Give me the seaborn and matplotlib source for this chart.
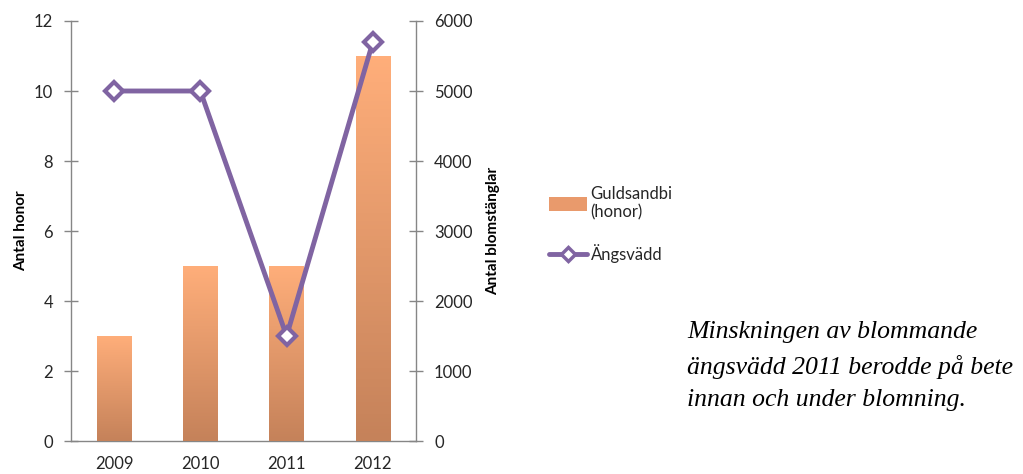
import numpy as np
import pandas as pd
import seaborn as sns
import matplotlib.pyplot as plt
from matplotlib.patches import Patch
from matplotlib.lines import Line2D
from matplotlib.colors import LinearSegmentedColormap

years = ["2009", "2010", "2011", "2012"]
honor = [3, 5, 5, 11]
blomstanglar = [5000, 5000, 1500, 5700]

df = pd.DataFrame({"År": years, "Guldsandbi": honor, "Ängsvädd": blomstanglar})

sns.set_style("white")
plt.rcParams["font.family"] = ["Lato", "DejaVu Sans"]

grey = "#868686"
txt = "#262626"
purple = "#8064A2"

fig = plt.figure(figsize=(10.23, 4.74), dpi=100)
ax = fig.add_axes([0.0694, 0.0696, 0.3372, 0.8861])

sns.barplot(data=df, x="År", y="Guldsandbi", color="#F4A070", width=0.4,
            saturation=1, ax=ax, zorder=2)

# gradient fill on the bars
grad = LinearSegmentedColormap.from_list("g", ["#C5825A", "#FFAE7A"])
for bar in ax.patches:
    x0, y0 = bar.get_x(), bar.get_y()
    w, h = bar.get_width(), bar.get_height()
    im = ax.imshow(np.linspace(0, 1, 100).reshape(-1, 1), cmap=grad, origin="lower",
                   extent=[x0, x0 + w, y0, y0 + h], aspect="auto", zorder=3)
    im.set_clip_path(bar)
    bar.set_alpha(0)

ax.set_xlim(-0.5, 3.5)
ax.set_ylim(0, 12)
ax.set_yticks(range(0, 13, 2))
ax.set_xlabel("")
ax.set_ylabel("Antal honor", fontsize=11, fontweight="bold", color="black", labelpad=4)

ax2 = ax.twinx()
sns.pointplot(data=df, x="År", y="Ängsvädd", color=purple, errorbar=None, ax=ax2,
              markers="D", markersize=9, markerfacecolor="white",
              markeredgewidth=3, linewidth=3.5, zorder=5)
ax2.set_xlim(-0.5, 3.5)
ax2.set_ylim(0, 6000)
ax2.set_yticks(range(0, 6001, 1000))
ax2.set_ylabel("Antal blomstänglar", fontsize=11, fontweight="bold", color="black", labelpad=10)

for a in (ax, ax2):
    for s in a.spines.values():
        s.set_visible(False)
    a.tick_params(axis="y", direction="inout", length=10, width=1, color=grey,
                  labelsize=12, labelcolor=txt, pad=8)
ax.spines["left"].set_visible(True)
ax.spines["bottom"].set_visible(True)
ax2.spines["right"].set_visible(True)
for sp in (ax.spines["left"], ax.spines["bottom"], ax2.spines["right"]):
    sp.set_color(grey)
    sp.set_linewidth(1)

ax.tick_params(axis="x", which="major", length=0, labelsize=12, labelcolor=txt, pad=11)
ax.set_xticks([0.5, 1.5, 2.5], minor=True)
ax.tick_params(axis="x", which="minor", direction="inout", length=10, color=grey)

handles = [Patch(facecolor="#E99A6C", edgecolor="none"),
           Line2D([], [], color=purple, lw=3.5, marker="D", markersize=7,
                  markerfacecolor="white", markeredgewidth=2.5)]
fig.legend(handles, ["Guldsandbi\n(honor)", "Ängsvädd"], loc="upper left",
           bbox_to_anchor=(0.522, 0.64), frameon=False, fontsize=12,
           labelcolor=txt, handlelength=2.3, handleheight=0.9, handletextpad=0.2,
           labelspacing=1.45)

fig.text(0.672, 0.228,
         "Minskningen av blommande\nängsvädd 2011 berodde på bete\ninnan och under blomning.",
         fontsize=18.5, style="italic", family=["Liberation Serif", "DejaVu Serif"],
         color="black", va="center", ha="left", linespacing=1.62)

fig.savefig("out.png", dpi=100)
